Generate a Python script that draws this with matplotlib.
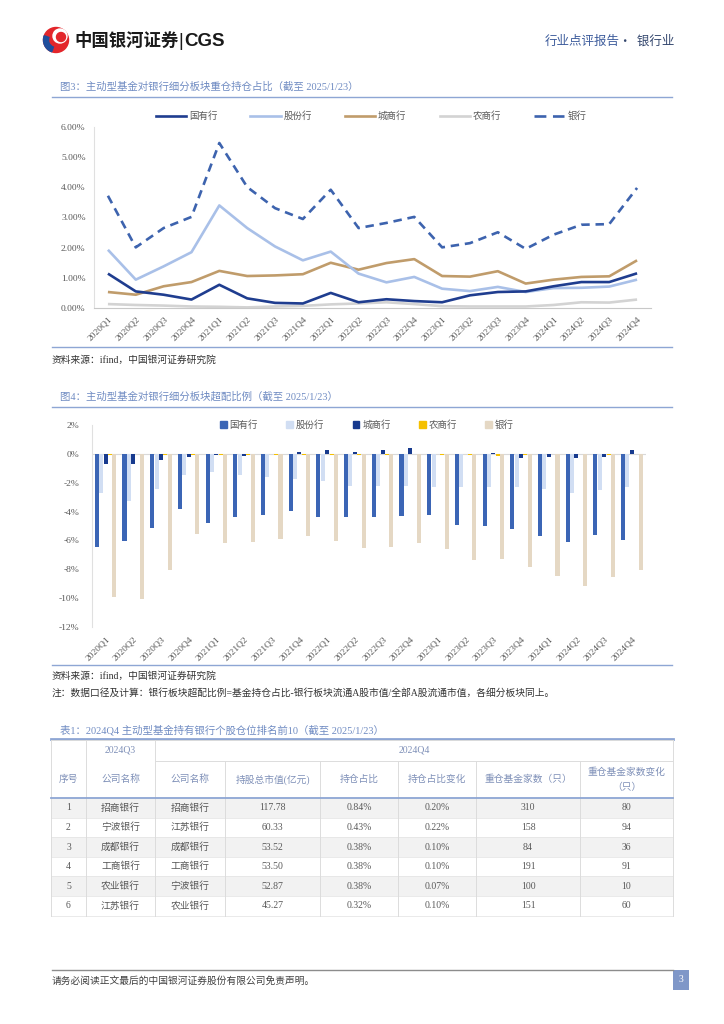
import numpy as np
import matplotlib.pyplot as plt
from matplotlib.patches import Rectangle, Circle, Wedge
from matplotlib.lines import Line2D

plt.rcParams['font.family'] = ['Liberation Serif', 'Noto Sans CJK SC', 'DejaVu Sans']

quarters = ['2020Q1', '2020Q2', '2020Q3', '2020Q4', '2021Q1', '2021Q2', '2021Q3', '2021Q4',
            '2022Q1', '2022Q2', '2022Q3', '2022Q4', '2023Q1', '2023Q2', '2023Q3', '2023Q4',
            '2024Q1', '2024Q2', '2024Q3', '2024Q4']
groups = ['国有行', '股份行', '城商行', '农商行', '银行']

# 重仓持仓占比 (%)
hold_gy = [1.14, 0.55, 0.44, 0.28, 0.77, 0.32, 0.17, 0.15, 0.50, 0.19,
           0.29, 0.23, 0.19, 0.42, 0.53, 0.55, 0.72, 0.86, 0.86, 1.15]
hold_gf = [1.93, 0.94, 1.38, 1.85, 3.40, 2.65, 2.04, 1.58, 1.87, 1.14,
           0.85, 1.03, 0.64, 0.56, 0.70, 0.53, 0.66, 0.67, 0.71, 0.94]
hold_cs = [0.53, 0.44, 0.72, 0.86, 1.23, 1.06, 1.08, 1.12, 1.50, 1.27,
           1.49, 1.62, 1.06, 1.04, 1.22, 0.81, 0.94, 1.03, 1.05, 1.58]
hold_ns = [0.13, 0.10, 0.08, 0.05, 0.04, 0.02, 0.05, 0.07, 0.12, 0.15,
           0.19, 0.13, 0.06, 0.05, 0.05, 0.05, 0.10, 0.19, 0.18, 0.28]
hold_yh = [3.72, 2.01, 2.65, 3.02, 5.47, 4.01, 3.31, 2.95, 3.92, 2.65,
           2.82, 3.02, 2.01, 2.15, 2.51, 1.96, 2.43, 2.76, 2.78, 3.98]

# 超配比例 (%)
over_gy = [-6.44, -6.02, -5.14, -3.84, -4.81, -4.38, -4.24, -3.96, -4.38, -4.38,
           -4.40, -4.31, -4.21, -4.93, -4.98, -5.21, -5.67, -6.13, -5.65, -5.97]
over_gf = [-2.73, -3.26, -2.45, -1.48, -1.23, -1.46, -1.60, -1.71, -1.85, -2.20,
           -2.22, -2.22, -2.27, -2.27, -2.27, -2.27, -2.41, -2.69, -2.52, -2.31]
over_cs = [-0.72, -0.69, -0.42, -0.21, -0.05, -0.16, -0.02, 0.12, 0.25, 0.14,
           0.25, 0.42, -0.03, -0.03, 0.08, -0.28, -0.25, -0.32, -0.23, 0.25]
over_ns = [-0.05, -0.04, -0.05, -0.05, -0.08, -0.08, -0.05, -0.05, -0.05, -0.05,
           -0.05, -0.02, -0.10, -0.06, -0.12, -0.07, -0.03, -0.03, -0.08, -0.01]
over_yh = [-9.95, -10.05, -8.06, -5.58, -6.20, -6.11, -5.90, -5.67, -6.04, -6.55,
           -6.44, -6.20, -6.60, -7.34, -7.31, -7.82, -8.45, -9.19, -8.50, -8.06]

# 表1
tbl_cols = ['序号', '公司名称', '公司名称', '持股总市值(亿元)', '持仓占比', '持仓占比变化',
            '重仓基金家数（只）', '重仓基金家数变化\n（只）']
tbl_rank = ['1', '2', '3', '4', '5', '6']
tbl_q3 = ['招商银行', '宁波银行', '成都银行', '工商银行', '农业银行', '江苏银行']
tbl_q4 = ['招商银行', '江苏银行', '成都银行', '工商银行', '宁波银行', '农业银行']
tbl_mv = ['117.78', '60.33', '53.52', '53.50', '52.87', '45.27']
tbl_pct = ['0.84%', '0.43%', '0.38%', '0.38%', '0.38%', '0.32%']
tbl_chg = ['0.20%', '0.22%', '0.10%', '0.10%', '0.07%', '0.10%']
tbl_n = ['310', '158', '84', '191', '100', '151']
tbl_nchg = ['80', '94', '36', '91', '10', '60']

W, H = 724, 1024
fig = plt.figure(figsize=(7.24, 10.24), dpi=100)
page = fig.add_axes([0, 0, 1, 1])
page.set_xlim(0, W)
page.set_ylim(H, 0)
page.axis('off')


def box(l, t, r, b):
    return fig.add_axes([l / W, 1 - b / H, (r - l) / W, (b - t) / H])


title_c = '#6f8bc2'
rule_c = '#8ea6d4'
txt_c = '#595959'

# header
page.add_patch(Circle((56, 40), 12.5, color='#e3262b'))
page.add_patch(Circle((60, 36), 7, color='white'))
page.add_patch(Wedge((56, 40), 12.5, 110, 200, width=5, color='#1f4e9c'))
page.add_patch(Circle((61, 37), 4.5, color='#e3262b'))
page.text(74, 41, '中国银河证券', fontsize=12.5, fontweight='bold', color='#1a1a1a',
          va='center', family=['Noto Sans CJK SC'])
page.text(178, 41, '|', fontsize=13, color='#1a1a1a', va='center',
          family=['Liberation Sans'])
page.text(184, 41, 'CGS', fontsize=13.5, fontweight='bold', color='#1a1a1a',
          va='center', family=['Liberation Sans'])
page.text(620, 41, '行业点评报告', fontsize=9, color='#3d5c9c', ha='right', va='center',
          family=['Noto Sans CJK SC'])
page.text(674, 41, '·  银行业', fontsize=9, color='#34476e', ha='right', va='center',
          family=['Noto Sans CJK SC'])

# 图3
page.text(60, 87, '图3：主动型基金对银行细分板块重仓持仓占比（截至 2025/1/23）',
          fontsize=7.5, color=title_c, va='center')
page.plot([52, 672], [96.5, 96.5], color=rule_c, lw=1)

x = np.arange(len(quarters))
ax1 = box(94, 127, 651, 308)
line_colors = ['#1f3d8f', '#a9c0e8', '#c09c6b', '#d3d3d3', '#3d63ae']
series1 = [hold_gy, hold_gf, hold_cs, hold_ns, hold_yh]
order = [3, 2, 1, 0, 4]
for i in order:
    ls = (0, (3.2, 2.2)) if i == 4 else '-'
    ax1.plot(x, series1[i], color=line_colors[i], lw=1.9, ls=ls, solid_capstyle='butt')
ax1.set_xlim(-0.5, 19.5)
ax1.set_ylim(0, 6)
ax1.set_yticks(np.arange(0, 7, 1))
ax1.set_yticklabels([f'{v:.2f}%' for v in np.arange(0, 7, 1)])
ax1.set_xticks(x)
ax1.set_xticklabels(quarters, rotation=45, ha='right', va='top', rotation_mode='anchor')
ax1.tick_params(length=0, labelsize=6.8, labelcolor=txt_c)
ax1.tick_params(axis='x', pad=5)
ax1.tick_params(axis='y', pad=6)
for s in ['top', 'right']:
    ax1.spines[s].set_visible(False)
ax1.spines['left'].set_color('#e0e0e0')
ax1.spines['bottom'].set_color('#c8c8c8')
ax1.patch.set_alpha(0)

h1 = [Line2D([], [], color=line_colors[i], lw=1.9, ls=((0, (4.5, 2.5)) if i == 4 else '-'))
      for i in range(5)]
fig.legend(h1, groups, loc='center', bbox_to_anchor=(371 / W, 1 - 116 / H), ncol=5,
           frameon=False, handlelength=3.2, handletextpad=0.3, columnspacing=3.5,
           fontsize=6.8, labelcolor=txt_c)

page.plot([52, 672], [347, 347], color=rule_c, lw=1)
page.text(52, 360, '资料来源：ifind，中国银河证券研究院', fontsize=7, color='#333333', va='center')

# 图4
page.text(60, 397, '图4：主动型基金对银行细分板块超配比例（截至 2025/1/23）',
          fontsize=7.5, color=title_c, va='center')
page.plot([52, 672], [407, 407], color=rule_c, lw=1)

ax2 = box(91.7, 425, 645.7, 627)
bar_colors = ['#3b65b5', '#d1def3', '#173a8e', '#f5c000', '#e5d8c4']
series2 = [over_gy, over_gf, over_cs, over_ns, over_yh]
ax2.axhline(0, color='#d9d9d9', lw=0.8, zorder=0)
for i in range(5):
    ax2.bar(x + (i - 2) * 0.158, series2[i], width=0.145, color=bar_colors[i], zorder=2)
ax2.set_xlim(-0.5, 19.5)
ax2.set_ylim(-12, 2)
ax2.set_yticks(np.arange(-12, 3, 2))
ax2.set_yticklabels([f'{v}%' for v in np.arange(-12, 3, 2)])
ax2.set_xticks(x)
ax2.set_xticklabels(quarters, rotation=45, ha='right', va='top', rotation_mode='anchor')
ax2.tick_params(length=0, labelsize=6.8, labelcolor=txt_c)
ax2.tick_params(axis='x', pad=6)
ax2.tick_params(axis='y', pad=9)
for s in ['top', 'right', 'bottom']:
    ax2.spines[s].set_visible(False)
ax2.spines['left'].set_color('#e0e0e0')
ax2.patch.set_alpha(0)

h2 = [Rectangle((0, 0), 1, 1, color=bar_colors[i]) for i in range(5)]
fig.legend(h2, groups, loc='center', bbox_to_anchor=(367 / W, 1 - 425 / H), ncol=5,
           frameon=False, handlelength=0.7, handleheight=0.7, handletextpad=0.3,
           columnspacing=3.0, fontsize=6.8, labelcolor=txt_c)

page.plot([52, 672], [665, 665], color=rule_c, lw=1)
page.text(52, 676, '资料来源：ifind，中国银河证券研究院', fontsize=7, color='#333333', va='center')
page.text(52, 693, '注：数据口径及计算：银行板块超配比例=基金持仓占比-银行板块流通A股市值/全部A股流通市值，各细分板块同上。',
          fontsize=7, color='#333333', va='center')

# 表1
page.text(60, 730, '表1：2024Q4 主动型基金持有银行个股仓位排名前10（截至 2025/1/23）',
          fontsize=7.5, color=title_c, va='center')
page.plot([51, 673], [739, 739], color=rule_c, lw=2)

edges = [51, 86, 155, 225, 320, 398, 476, 580, 673]
top, r1, r2, rh = 740, 761, 798, 19.6
rows = list(zip(tbl_rank, tbl_q3, tbl_q4, tbl_mv, tbl_pct, tbl_chg, tbl_n, tbl_nchg))
bottom = r2 + rh * len(rows)
for k in range(len(rows)):
    y0 = r2 + k * rh
    if k % 2 == 0:
        page.add_patch(Rectangle((edges[0], y0), edges[-1] - edges[0], rh,
                                 color='#f2f2f2', lw=0, zorder=0))
    page.plot([edges[0], edges[-1]], [y0 + rh, y0 + rh], color='#e6e6e6', lw=0.6)
grid_c = '#dcdcdc'
for j, ex in enumerate(edges):
    y_start = r1 if 3 <= j <= 7 else top
    page.plot([ex, ex], [y_start, bottom], color=grid_c, lw=0.7)
page.plot([edges[0], edges[-1]], [top, top], color=grid_c, lw=0.7)
page.plot([edges[2], edges[-1]], [r1, r1], color=grid_c, lw=0.7)
page.plot([edges[0], edges[-1]], [r2, r2], color=rule_c, lw=1.3)

hdr_c = '#7f90b8'
page.text((edges[1] + edges[2]) / 2, (top + r1) / 2, '2024Q3', fontsize=7, color=hdr_c,
          ha='center', va='center')
page.text((edges[2] + edges[-1]) / 2, (top + r1) / 2, '2024Q4', fontsize=7, color=hdr_c,
          ha='center', va='center')
for j, name in enumerate(tbl_cols):
    page.text((edges[j] + edges[j + 1]) / 2, (r1 + r2) / 2, name, fontsize=7, color=hdr_c,
              ha='center', va='center', linespacing=1.8)
for k, row in enumerate(rows):
    yc = r2 + (k + 0.5) * rh
    for j, val in enumerate(row):
        page.text((edges[j] + edges[j + 1]) / 2, yc, val, fontsize=7, color=txt_c,
                  ha='center', va='center')

# footer
page.plot([52, 673], [969.5, 969.5], color='#8c8c8c', lw=1)
page.text(52, 981, '请务必阅读正文最后的中国银河证券股份有限公司免责声明。', fontsize=7,
          color='#404040', va='center')
page.add_patch(Rectangle((673, 969.5), 16, 20, color='#7f97c8', lw=0))
page.text(681, 980, '3', fontsize=7, color='white', ha='center', va='center')

fig.savefig('out.png', dpi=100)
